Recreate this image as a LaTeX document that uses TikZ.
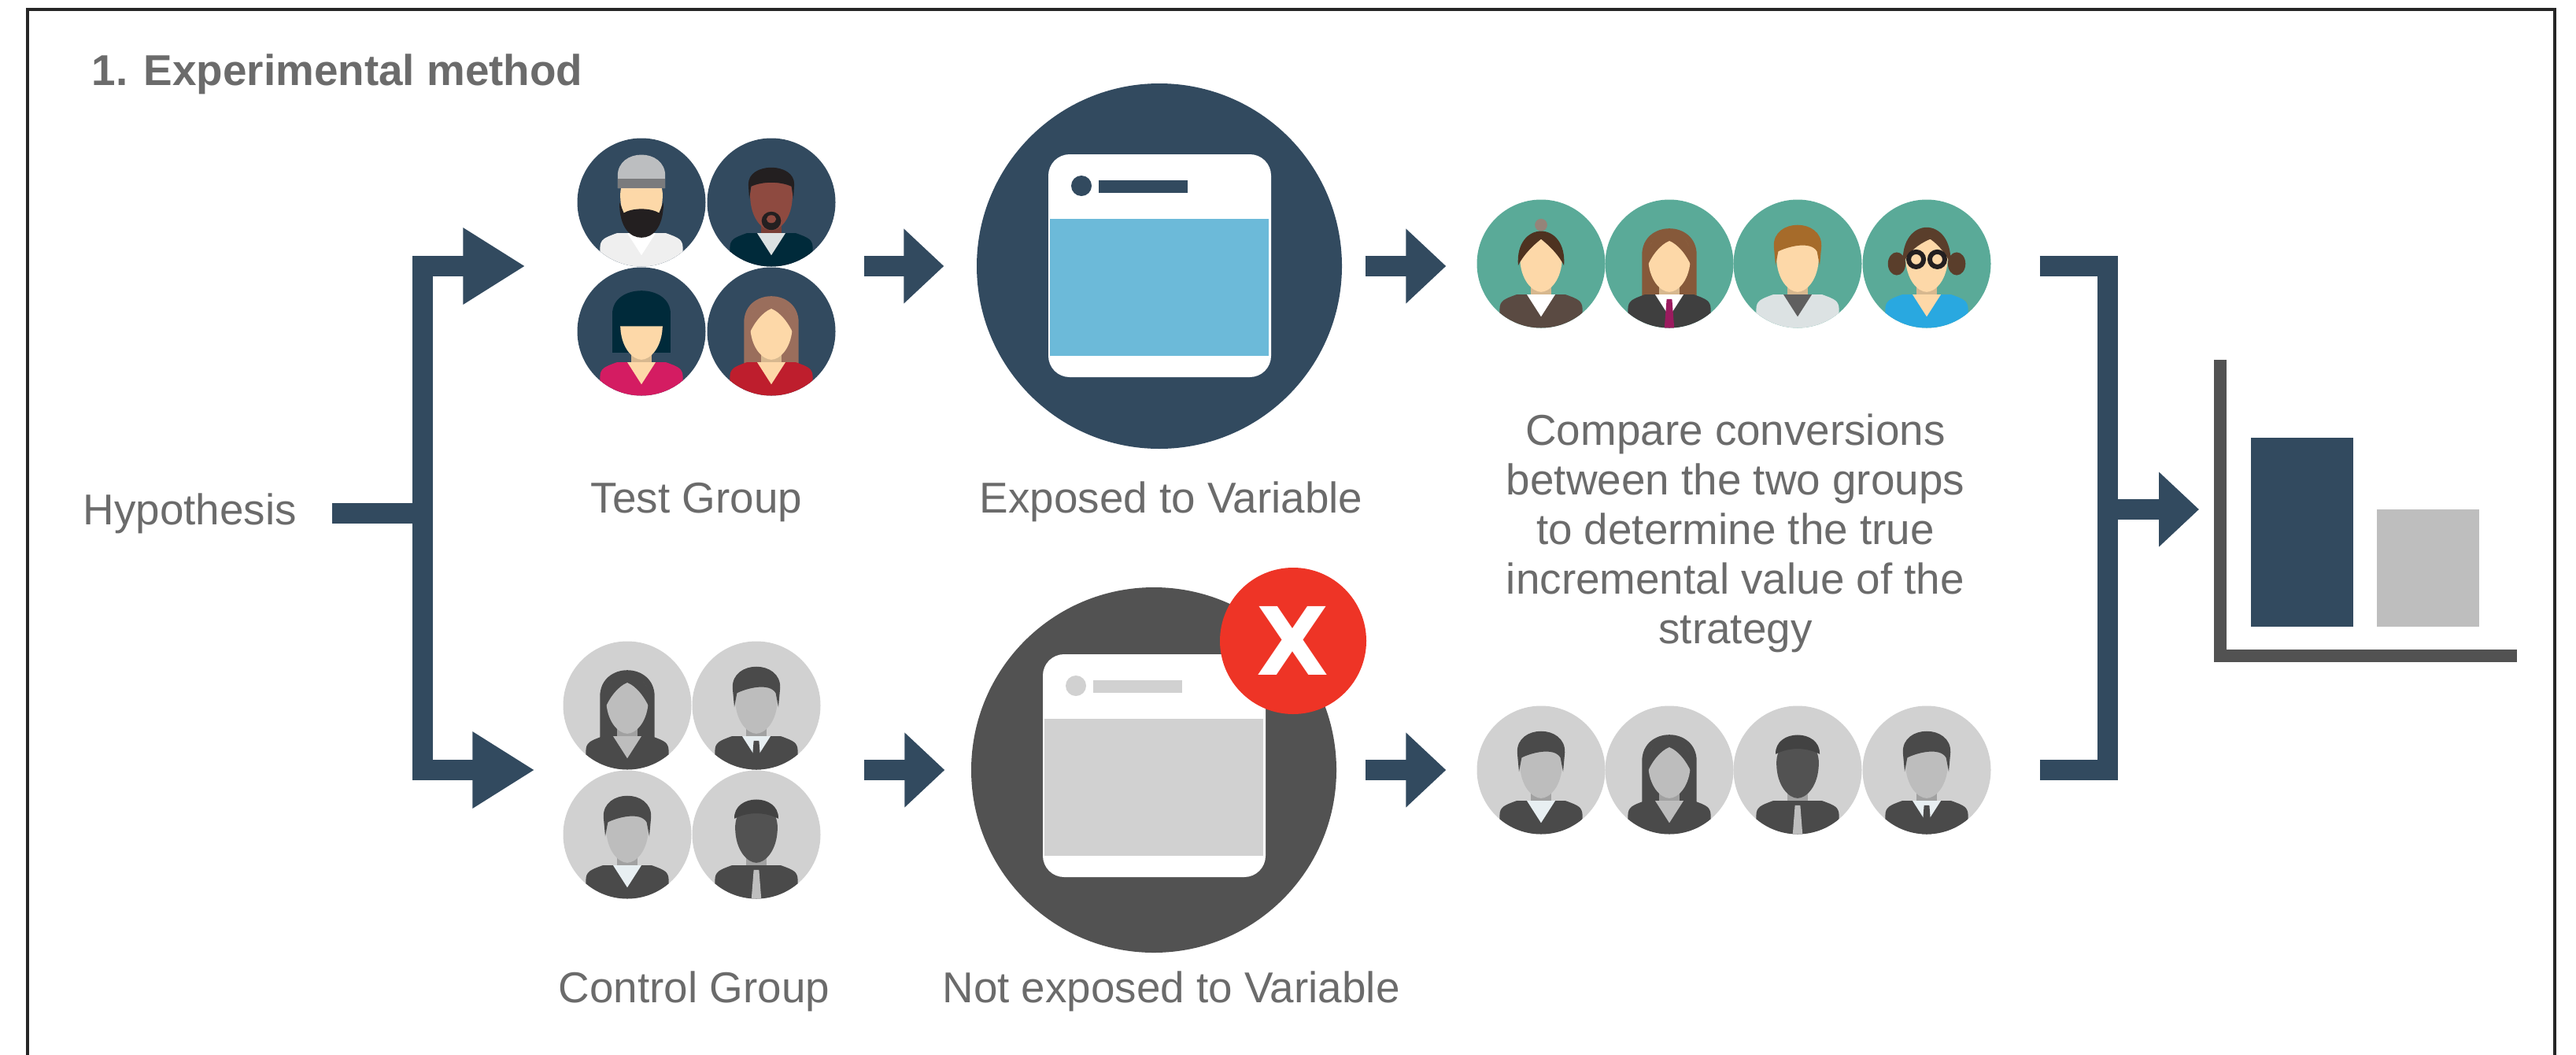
\documentclass[tikz,border=0pt]{standalone}
\usepackage{fontspec}
\setmainfont{Liberation Sans}
\newfontfamily\crossfont{DejaVu Sans}
\usetikzlibrary{arrows.meta}

\definecolor{navy}{HTML}{324A5F}
\definecolor{txtgray}{HTML}{6B6B6B}
\definecolor{screenblue}{HTML}{6CBAD9}
\definecolor{slate}{HTML}{525252}
\definecolor{paleg}{HTML}{D1D1D1}
\definecolor{alertred}{HTML}{EE3426}
\definecolor{tealbg}{HTML}{5AAA98}
\definecolor{bargray}{HTML}{BEBEBE}
\definecolor{skin}{HTML}{FDD8A8}
\definecolor{skindark}{HTML}{8E4A40}
\definecolor{ink}{HTML}{231F20}
\definecolor{deepnavy}{HTML}{002A3A}
\definecolor{beanie}{HTML}{BCBEC0}
\definecolor{jacketwhite}{HTML}{EFEFEF}
\definecolor{collar}{HTML}{DCE2E3}
\definecolor{rosepink}{HTML}{D41C62}
\definecolor{brick}{HTML}{BE1E2D}
\definecolor{auburn}{HTML}{9A6E5C}
\definecolor{darkbrown}{HTML}{4E3220}
\definecolor{suitbrown}{HTML}{5A4A42}
\definecolor{chestnut}{HTML}{86593A}
\definecolor{charcoal}{HTML}{3F3F3F}
\definecolor{plum}{HTML}{9B1B5F}
\definecolor{ginger}{HTML}{A66B2A}
\definecolor{shirtgray}{HTML}{5F5F5F}
\definecolor{cocoa}{HTML}{5A3E2B}
\definecolor{skyblue}{HTML}{29A8E0}
\definecolor{ctrlskin}{HTML}{BDBDBD}
\definecolor{ctrldark}{HTML}{4A4A4A}
\definecolor{ctrlshirt}{HTML}{E8EFF2}

\tikzset{
  % round portrait: bg, skin, hair, jacket, inner, hair style, tie
  pics/avatar/.style n args={7}{code={
    \fill[#1] (0,0) circle (0.815);
    \begin{scope}
      \clip (0,0) circle (0.815);
      \begin{scope}[scale=1.12]
        \ifcase#6\or
          \fill[#3] (-0.31,-0.5) -- (-0.31,0.1) .. controls (-0.31,0.5) and (0.31,0.5) .. (0.31,0.1) -- (0.31,-0.5) -- cycle;
        \or\or
          \fill[#3] (-0.33,-0.24) -- (-0.33,0.2) .. controls (-0.33,0.55) and (0.33,0.55) .. (0.33,0.2) -- (0.33,-0.24) -- cycle;
        \fi
        \fill[#2!85!black] (-0.12,-0.45) rectangle (0.12,-0.1);
        \fill[#4] (-0.47,-0.9) -- (-0.47,-0.52) .. controls (-0.47,-0.42) and (-0.42,-0.4) .. (-0.28,-0.35)
          -- (0.28,-0.35) .. controls (0.42,-0.4) and (0.47,-0.42) .. (0.47,-0.52) -- (0.47,-0.9) -- cycle;
        \fill[#5] (-0.16,-0.35) -- (0,-0.6) -- (0.16,-0.35) -- cycle;
        \edef\tiecol{#7}\def\notie{none}
        \ifx\tiecol\notie\else
          \fill[#7] (-0.03,-0.4) -- (0.03,-0.4) -- (0.055,-0.72) -- (0,-0.8) -- (-0.055,-0.72) -- cycle;
        \fi
      \end{scope}
    \end{scope}
    \begin{scope}[scale=1.12]
      \ifnum#6=4 \def\facecol{#3}\else\def\facecol{#2}\fi
      \fill[\facecol] (-0.24,0.08) .. controls (-0.24,-0.18) and (-0.1,-0.32) .. (0,-0.32)
        .. controls (0.1,-0.32) and (0.24,-0.18) .. (0.24,0.08) .. controls (0.24,0.44) and (-0.24,0.44) .. (-0.24,0.08) -- cycle;
      \ifcase#6
        \fill[#3] (-0.25,-0.02) -- (-0.27,0.2) .. controls (-0.28,0.52) and (0.28,0.52) .. (0.27,0.2)
          -- (0.25,-0.02) -- (0.22,0.14) .. controls (0.15,0.26) and (-0.1,0.2) .. (-0.22,0.14) -- cycle;
      \or
        \fill[#3] (-0.26,-0.05) .. controls (-0.3,0.5) and (0.3,0.5) .. (0.26,-0.05)
          .. controls (0.2,0.1) and (0.1,0.22) .. (0,0.26) .. controls (-0.1,0.22) and (-0.2,0.1) .. (-0.26,-0.05) -- cycle;
      \or
        \fill[ink] (-0.25,0) .. controls (-0.25,-0.3) and (-0.12,-0.4) .. (0,-0.4) .. controls (0.12,-0.4) and (0.25,-0.3) .. (0.25,0)
          -- (0.2,-0.12) .. controls (0.1,-0.06) and (-0.1,-0.06) .. (-0.2,-0.12) -- cycle;
        \fill[#3] (-0.27,0.16) -- (-0.27,0.3) .. controls (-0.27,0.62) and (0.27,0.62) .. (0.27,0.3) -- (0.27,0.16) -- cycle;
        \fill[#3!65!black] (-0.27,0.16) rectangle (0.27,0.27);
      \or
        \fill[#3] (-0.31,0.06) -- (-0.31,0.2) .. controls (-0.31,0.52) and (0.31,0.52) .. (0.31,0.2) -- (0.31,0.06) -- cycle;
      \or
        \fill[#3!80!black] (-0.25,0.18) .. controls (-0.26,0.47) and (0.26,0.47) .. (0.25,0.18)
          .. controls (0.1,0.26) and (-0.1,0.26) .. (-0.25,0.18) -- cycle;
      \or
        \fill[#3!60!white] (0,0.44) circle (0.07);
        \fill[#3] (-0.26,-0.02) .. controls (-0.3,0.5) and (0.3,0.5) .. (0.26,-0.02)
          .. controls (0.2,0.1) and (0.1,0.2) .. (0,0.28) .. controls (-0.1,0.2) and (-0.2,0.1) .. (-0.26,-0.02) -- cycle;
      \or
        \fill[#3] (-0.25,0.04) -- (-0.26,0.2) .. controls (-0.27,0.46) and (0.27,0.46) .. (0.26,0.2)
          -- (0.25,0.04) -- (0.23,0.18) .. controls (0.1,0.24) and (-0.1,0.24) .. (-0.23,0.18) -- cycle;
        \fill[#3] (0,-0.21) ellipse (0.11 and 0.105);
        \fill[#2] (0,-0.19) ellipse (0.055 and 0.045);
      \or
        \fill[#3] (-0.34,0) ellipse (0.1 and 0.13) (0.34,0) ellipse (0.1 and 0.13);
        \fill[#3] (-0.27,0) .. controls (-0.3,0.55) and (0.3,0.55) .. (0.27,0)
          .. controls (0.2,0.15) and (0.1,0.24) .. (0.04,0.28) .. controls (-0.1,0.22) and (-0.2,0.14) .. (-0.27,0) -- cycle;
        \draw[ink, line width=0.6mm] (-0.12,0.05) circle (0.085) (0.12,0.05) circle (0.085);
      \fi
    \end{scope}
  }},
  % browser window: accent, content
  pics/screen/.style 2 args={code={
    \fill[white, rounded corners=2.7mm] (-1.415,-1.415) rectangle (1.415,1.415);
    \fill[#2] (-1.395,-1.145) rectangle (1.385,0.595);
    \fill[#1] (-0.995,1.015) circle (0.13);
    \fill[#1] (-0.775,0.925) rectangle (0.355,1.085);
  }},
  bar/.style={draw=navy, line width=2.6mm},
  flow/.style={bar, -{Triangle[length=5.1mm, width=9.2mm]}},
  txt/.style={text=txtgray, inner sep=0pt, font=\fontsize{15.6}{17.9}\selectfont},
  crowd/.style={minimum width=#1, minimum height=3.28cm, inner sep=0pt},
}

\begin{document}
\begin{tikzpicture}
    \useasboundingbox (0,0) rectangle (32.73,-13.39);
    \draw[line width=0.4mm, black!85] (0.35,-13.6) -- (0.35,-0.115) -- (32.46,-0.115) -- (32.46,-13.6);

    \node[txt, anchor=base west, font=\fontsize{15.6}{17.9}\selectfont\bfseries] (title) at (1.16,-1.08) {1. Experimental method};
    \node[txt, anchor=base west] (hyp) at (1.05,-6.66) {Hypothesis};

    % the two groups
    \node[crowd=3.28cm] (testgrp) at (8.975,-3.38) {};
    \node[crowd=3.26cm] (ctrlgrp) at (8.79,-9.78) {};
    \foreach \cx/\cy/\cs/\ch/\cj/\cv/\hs/\ct in {8.15/-2.57/skin/beanie/jacketwhite/white/2/none,
                                             9.80/-2.57/skindark/ink/deepnavy/collar/6/none,
                                             8.15/-4.21/skin/deepnavy/rosepink/skin/3/none,
                                             9.80/-4.21/skin/auburn/brick/skin/1/none}
        \pic at (\cx,\cy) {avatar={navy}{\cs}{\ch}{\cj}{\cv}{\hs}{\ct}};
    \foreach \cx/\cy/\ch/\cv/\hs/\ct in {7.97/-8.96/ctrldark/ctrlskin/1/none,
                                     9.61/-8.96/ctrldark/ctrlshirt/0/ctrldark,
                                     7.97/-10.60/ctrldark/ctrlshirt/0/none,
                                     9.61/-10.60/slate/ctrldark/4/bargray}
        \pic at (\cx,\cy) {avatar={paleg}{ctrlskin}{\ch}{ctrldark}{\cv}{\hs}{\ct}};
    \node[txt, anchor=base] (testlbl) at (8.85,-6.51) {Test Group};
    \node[txt, anchor=base] (ctrllbl) at (8.82,-12.73) {Control Group};

    % exposure
    \node[circle, fill=navy, minimum size=4.64cm, inner sep=0pt] (expo) at (14.73,-3.38) {};
    \pic at (14.735,-3.375) {screen={navy}{screenblue}};
    \node[circle, fill=slate, minimum size=4.64cm, inner sep=0pt] (noexpo) at (14.66,-9.78) {};
    \pic at (14.665,-9.725) {screen={paleg}{paleg}};
    \node[circle, fill=alertred, minimum size=1.86cm, inner sep=0pt, text=white,
          font=\crossfont\bfseries\fontsize{34}{34}\selectfont] (cross) at (16.43,-8.14) {X};
    \node[txt, anchor=base] (explbl) at (14.88,-6.51) {Exposed to Variable};
    \node[txt, anchor=base] (noexplbl) at (14.88,-12.73) {Not exposed to Variable};

    % conversions
    \node[crowd=6.54cm] (testres) at (22.035,-3.38) {};
    \node[crowd=6.54cm] (ctrlres) at (22.03,-9.78) {};
    \foreach \cx/\ch/\cj/\cv/\hs/\ct in {19.58/darkbrown/suitbrown/white/5/none,
                                     21.21/chestnut/charcoal/white/1/plum,
                                     22.84/ginger/collar/shirtgray/0/none,
                                     24.48/cocoa/skyblue/skin/7/none}
        \pic at (\cx,-3.35) {avatar={tealbg}{skin}{\ch}{\cj}{\cv}{\hs}{\ct}};
    \foreach \cx/\ch/\cv/\hs/\ct in {19.58/ctrldark/ctrlshirt/0/none,
                                 21.21/ctrldark/ctrlskin/1/none,
                                 22.84/slate/ctrldark/4/bargray,
                                 24.48/ctrldark/ctrlshirt/0/ctrldark}
        \pic at (\cx,-9.78) {avatar={paleg}{ctrlskin}{\ch}{ctrldark}{\cv}{\hs}{\ct}};
    \node[txt, anchor=north, align=center] (compare) at (22.05,-5.25)
        {Compare conversions\\between the two groups\\to determine the true\\incremental value of the\\strategy};

    % result chart
    \coordinate (chart) at (28.13,-6.47);
    \draw[slate, line width=1.6mm] (28.21,-4.57) -- (28.21,-8.325) -- (31.98,-8.325);
    \fill[navy] (28.60,-5.56) rectangle (29.90,-7.96);
    \fill[bargray] (30.20,-6.47) rectangle (31.50,-7.96);

    % connectors
    \coordinate (splitL) at (5.37,-6.49);
    \coordinate (hypout) at ([xshift=4.4mm]hyp.east);
    \draw[bar] (hypout) -- (hypout -| splitL);
    \draw[bar, {Triangle[length=7.9mm, width=9.2mm]}-{Triangle[length=7.9mm, width=9.2mm]}]
        ([xshift=-6.55mm]testgrp.west) -| (splitL) |- ([xshift=-3.6mm]ctrlgrp.west);
    \draw[flow] ([xshift=3.55mm]testgrp.east) -- ([xshift=-4.1mm]expo.west);
    \draw[flow] ([xshift=5.5mm]ctrlgrp.east) -- ([xshift=-3.3mm]noexpo.west);
    \draw[flow] ([xshift=2.9mm]expo.east) -- ([xshift=-3.85mm]testres.west);
    \draw[flow] ([xshift=3.6mm]noexpo.east) -- ([xshift=-3.8mm]ctrlres.west);
    \coordinate (joinR) at (26.78,-6.47);
    \draw[bar] ([xshift=6.05mm]testres.east) -| (joinR) |- ([xshift=6.1mm]ctrlres.east);
    \draw[flow] (joinR) -- ([xshift=-1.9mm]chart);

\end{tikzpicture}
\end{document}
